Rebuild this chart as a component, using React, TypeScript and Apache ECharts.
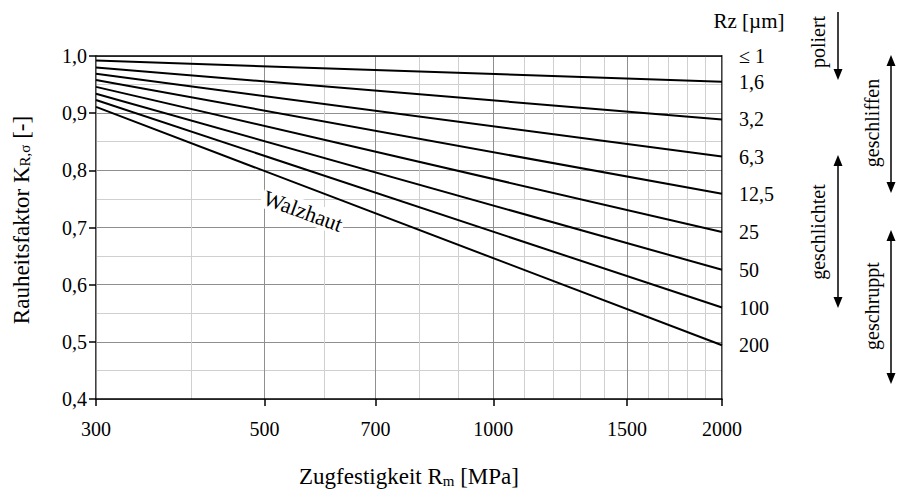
import React, { useEffect, useRef } from 'react';
import * as echarts from 'echarts';

// Rz classes (right-hand labels)
const rzLabels = ['≤ 1', '1,6', '3,2', '6,3', '12,5', '25', '50', '100', '200'];
// tensile strength range of each line [MPa]
const rmRange = [300, 2000];
// roughness factor read at Rm = 300 and Rm = 2000
const kAt300 = [1.0, 0.992, 0.98, 0.969, 0.958, 0.946, 0.934, 0.923, 0.911];
const kAt2000 = [1.0, 0.955, 0.889, 0.824, 0.759, 0.692, 0.626, 0.56, 0.494];
// axis ticks
const xMajorTicks = [300, 500, 700, 1000, 1500, 2000];
const xMinorTicks = [400, 600, 800, 900, 1100, 1200, 1300, 1400, 1600, 1700, 1800, 1900];
const yMin = 0.4;
const yMax = 1.0;
const yStep = 0.1;

const FONT = '"Liberation Serif", "DejaVu Serif", serif';

function arrow(x: number, y1: number, y2: number, up: boolean, down: boolean): any[] {
  const els: any[] = [];
  const hw = 4.5;
  const hh = 11;
  els.push({
    type: 'line',
    shape: { x1: x, y1: up ? y1 + hh - 1 : y1, x2: x, y2: down ? y2 - hh + 1 : y2 },
    style: { stroke: '#000', lineWidth: 1.5 },
    silent: true,
  });
  if (up) {
    els.push({
      type: 'polygon',
      shape: { points: [[x, y1], [x - hw, y1 + hh], [x + hw, y1 + hh]] },
      style: { fill: '#000' },
      silent: true,
    });
  }
  if (down) {
    els.push({
      type: 'polygon',
      shape: { points: [[x, y2], [x - hw, y2 - hh], [x + hw, y2 - hh]] },
      style: { fill: '#000' },
      silent: true,
    });
  }
  return els;
}

function vText(text: string, x: number, y: number): any {
  return {
    type: 'text',
    x,
    y,
    rotation: Math.PI / 2,
    style: {
      text,
      fontFamily: FONT,
      fontSize: 20,
      fill: '#000',
      align: 'center',
      verticalAlign: 'middle',
    },
    silent: true,
  };
}

export default function App() {
  const ref = useRef<HTMLDivElement>(null);

  useEffect(() => {
    if (!ref.current) return;
    document.body.style.margin = '0';
    const chart = echarts.init(ref.current, null, { renderer: 'svg' });

    const series = rzLabels.map((name, i) => ({
      name,
      type: 'line',
      xAxisIndex: 0,
      yAxisIndex: 0,
      data: [
        [rmRange[0], kAt300[i]],
        [rmRange[1], kAt2000[i]],
      ],
      symbol: 'none',
      clip: false,
      lineStyle: { color: '#000', width: i === 0 ? 1.5 : 2 },
      endLabel: {
        show: true,
        formatter: () => name,
        distance: 17,
        color: '#000',
        fontSize: 20,
        fontFamily: FONT,
      },
      z: 5,
    }));

    const subRich = {
      a: { fontFamily: FONT, fontSize: 23, color: '#000', lineHeight: 23, verticalAlign: 'top' },
      s: { fontFamily: FONT, fontSize: 15, color: '#000', lineHeight: 15, verticalAlign: 'bottom', padding: [11, 0, 0, 0] },
    };

    const option: any = {
      animation: false,
      backgroundColor: '#fff',
      grid: { left: 96, right: 176, top: 56, bottom: 94, containLabel: false },
      xAxis: [
        {
          type: 'log',
          logBase: 10,
          min: 300,
          max: 2000,
          position: 'bottom',
          name: '{a|Zugfestigkeit R}{s|m}{a| [MPa]}',
          nameLocation: 'middle',
          nameGap: 66,
          nameTextStyle: { rich: subRich },
          axisLine: { show: true, lineStyle: { color: '#000', width: 1.5 } },
          axisTick: { show: true, inside: false, length: 7, customValues: xMajorTicks, lineStyle: { color: '#000', width: 1.5 } },
          axisLabel: {
            show: true,
            customValues: xMajorTicks,
            formatter: (v: number) => String(Math.round(v)),
            margin: 20,
            color: '#000',
            fontSize: 20,
            fontFamily: FONT,
          },
          splitLine: { show: true, lineStyle: { color: '#8f8f8f', width: 1 } },
          minorTick: { show: false },
          minorSplitLine: { show: false },
          z: 3,
        },
        {
          type: 'log',
          logBase: 10,
          min: 300,
          max: 2000,
          position: 'bottom',
          axisLine: { show: false },
          axisTick: { show: false, customValues: xMinorTicks },
          axisLabel: { show: false, customValues: xMinorTicks },
          splitLine: { show: true, lineStyle: { color: '#d0d0d0', width: 1 } },
          z: 1,
        },
      ],
      yAxis: [
        {
          type: 'value',
          min: yMin,
          max: yMax,
          interval: yStep,
          position: 'left',
          axisLine: { show: true, lineStyle: { color: '#000', width: 1.5 } },
          axisTick: { show: true, inside: false, length: 7, lineStyle: { color: '#000', width: 1.5 } },
          axisLabel: {
            formatter: (v: number) => v.toFixed(1).replace('.', ','),
            margin: 9,
            color: '#000',
            fontSize: 20,
            fontFamily: FONT,
          },
          splitLine: { show: true, lineStyle: { color: '#8f8f8f', width: 1 } },
          minorTick: { show: false, splitNumber: 2 },
          minorSplitLine: { show: true, lineStyle: { color: '#d0d0d0', width: 1 } },
        },
        {
          type: 'value',
          min: yMin,
          max: yMax,
          position: 'right',
          axisLine: { show: true, onZero: false, lineStyle: { color: '#000', width: 1.5 } },
          axisTick: { show: false },
          axisLabel: { show: false },
          splitLine: { show: false },
        },
      ],
      series,
      graphic: [
        {
          type: 'text',
          x: 21,
          y: 220,
          rotation: Math.PI / 2,
          style: {
            text: '{a|Rauheitsfaktor K}{s|R,σ}{a| [-]}',
            rich: {
              a: { fontFamily: FONT, fontSize: 23, fill: '#000', lineHeight: 23, verticalAlign: 'top' },
              s: { fontFamily: FONT, fontSize: 15, fill: '#000', lineHeight: 15, verticalAlign: 'bottom', padding: [11, 0, 0, 0] },
            },
            align: 'center',
            verticalAlign: 'middle',
          },
          silent: true,
        },
        {
          type: 'text',
          x: 749,
          y: 21,
          style: {
            text: 'Rz [µm]',
            fontFamily: FONT,
            fontSize: 21,
            fill: '#000',
            align: 'center',
            verticalAlign: 'middle',
          },
          silent: true,
        },
        {
          type: 'text',
          x: 303,
          y: 211,
          rotation: (-20 * Math.PI) / 180,
          z: 10,
          style: {
            text: 'Walzhaut',
            fontFamily: FONT,
            fontSize: 22,
            fill: '#000',
            align: 'center',
            verticalAlign: 'middle',
            backgroundColor: '#fff',
            padding: [0, 2, 0, 2],
          },
          silent: true,
        },
        vText('poliert', 818, 42),
        vText('geschliffen', 872, 123),
        vText('geschlichtet', 818, 232),
        vText('geschruppt', 872, 306),
        ...arrow(838, 12, 80, false, true),
        ...arrow(891, 55, 193, true, true),
        ...arrow(838, 155, 308, true, true),
        ...arrow(891, 230, 384, true, true),
      ],
    };

    chart.setOption(option);
    return () => chart.dispose();
  }, []);

  return <div ref={ref} style={{ width: 898, height: 493 }} />;
}
